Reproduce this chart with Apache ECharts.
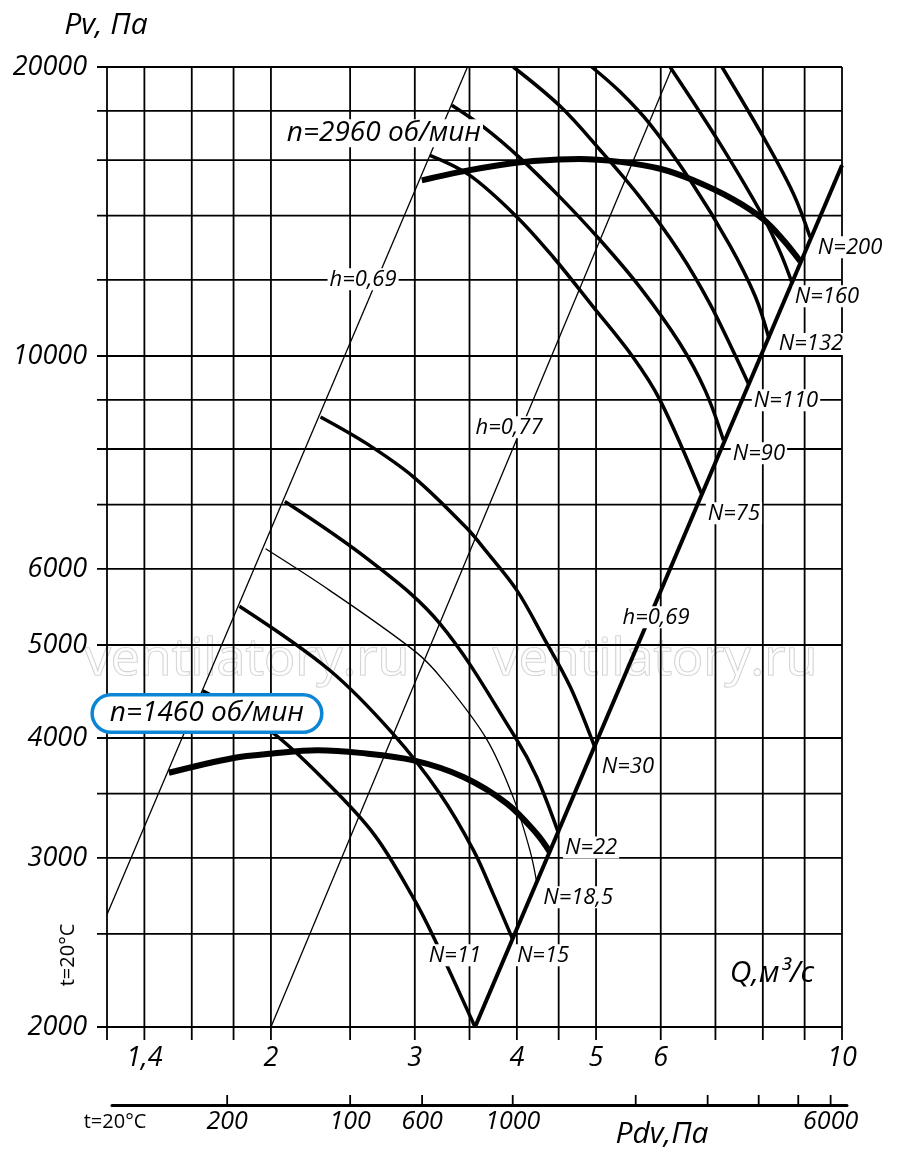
<!DOCTYPE html>
<html>
<head>
<meta charset="utf-8">
<script src="https://cdn.jsdelivr.net/npm/echarts@6/dist/echarts.min.js"></script>
<style>
html, body { margin: 0; padding: 0; background: #fff; }
#chart { width: 900px; height: 1158px; }
</style>
</head>
<body>
<div id="chart"></div>
<script>
// axis ranges
var qMin = 1.26, qMax = 10;
var pMin = 2000, pMax = 20000;
var pdvMin = 104.5, pdvMax = 6580;

// grid lines and tick labels
var qGrid = [1.4, 1.6, 1.8, 2, 2.5, 3, 3.5, 4, 4.5, 5, 6, 7, 8, 9, 10];
var qLabelVals = [1.4, 2, 3, 4, 5, 6, 10];
var qLabelText = ['1,4', '2', '3', '4', '5', '6', '10'];
var pGrid = [2000, 2500, 3000, 3500, 4000, 5000, 6000, 7000, 8000, 9000, 10000, 12000, 14000, 16000, 18000, 20000];
var pLabelVals = [2000, 3000, 4000, 5000, 6000, 10000, 20000];
var pdvTicks = [200, 400, 600, 1000, 2000, 3000, 4000, 5000, 6000];
var pdvLabelVals = [200, 400, 600, 1000, 6000];
var pdvLabelText = ['200', '100', '600', '1000', '6000'];

// fan curves, [Q m3/s, Pv Pa]
var n2960 = [[3.06, 15240], [3.41, 15550], [3.8, 15800], [4.19, 15960], [4.77, 16040], [5.35, 15930], [5.99, 15670], [6.58, 15240], [7.36, 14560], [8.01, 13880], [8.48, 13200], [8.89, 12550]];
var n1460 = [[1.5, 3680], [1.8, 3813], [2.01, 3854], [2.28, 3884], [2.57, 3860], [2.99, 3791], [3.44, 3643], [3.89, 3418], [4.23, 3180], [4.39, 3043]];

// power lines N, kW
var n11 = [[1.65, 4480], [2.0, 4065], [2.36, 3571], [2.68, 3167], [2.99, 2723], [3.17, 2472], [3.555, 2000]];
var n15 = [[1.83, 5486], [2.36, 4706], [2.82, 4043], [3.22, 3500], [3.54, 3055], [3.74, 2754], [3.95, 2472]];
var n185 = [[1.97, 6298], [2.36, 5700], [3.01, 4915], [3.25, 4594], [3.67, 3994], [3.96, 3467], [4.15, 3055], [4.23, 2830]];
var n22 = [[2.08, 7055], [2.64, 6125], [3.22, 5263], [3.98, 4010], [4.23, 3643], [4.5, 3180]];
var n30 = [[2.3, 8640], [2.62, 8104], [2.99, 7480], [3.47, 6623], [3.67, 6258], [4.0, 5700], [4.31, 5096], [4.65, 4520], [4.98, 3915]];
var n75 = [[3.13, 16180], [3.5, 15430], [4.0, 13960], [4.43, 12680], [4.96, 11250], [5.55, 9970], [5.99, 8990], [6.73, 7190]];
var n90 = [[3.33, 18250], [3.64, 17320], [4.04, 16065], [4.52, 14630], [5.06, 13200], [5.66, 11790], [6.33, 10310], [6.8, 9208], [7.16, 8170]];
var n110 = [[3.96, 20000], [4.52, 18200], [5.06, 16380], [5.66, 14630], [6.33, 12820], [6.89, 11340], [7.4, 10015], [7.68, 9360]];
var n132 = [[4.94, 20000], [5.35, 18845], [5.82, 17440], [6.52, 15240], [7.29, 13040], [7.83, 11540], [8.14, 10430]];
var n160 = [[6.16, 20000], [7.09, 16640], [8.01, 13960], [8.4, 12830], [8.68, 11940]];
var n200 = [[7.13, 20000], [8.01, 16910], [8.72, 14760], [9.14, 13300]];

// efficiency / network lines
var hLeft = [[1.26, 2620], [3.48, 20000]];
var h077 = [[2.0, 2000], [6.2, 20000]];
var hRight = [[3.555, 2000], [10, 15800]];

// text annotations and their anchor points
var noteText = ['N=200', 'N=160', 'N=132', 'N=110', 'N=90', 'N=75', 'N=30', 'N=22', 'N=18,5', 'N=15', 'N=11', 'h=0,69', 'h=0,69', 'h=0,77'];
var notePos = [[10.23, 12980], [9.585, 11540], [9.162, 10290], [8.54, 8992], [7.913, 7918], [7.375, 6857], [5.47, 3738], [4.93, 3077], [4.753, 2730], [4.306, 2375], [3.36, 2375], [2.593, 12020], [5.92, 5343], [3.912, 8428]];
var rpmText = ['n=2960 об/мин', 'n=1460 об/мин'];
var rpmPos = [[2.75, 17064], [1.67, 4243]];

var FONT = '"Open Sans", "Noto Sans", sans-serif';

function curve(data, width, smooth) {
    return {
        type: 'line', data: data, symbol: 'none', smooth: smooth === undefined ? 0.35 : smooth,
        lineStyle: { color: '#000', width: width }, silent: true, z: 3
    };
}

function vGridItem(params, api) {
    var q = api.value(0);
    var top = api.coord([q, pMax]);
    var bot = api.coord([q, pMin]);
    return {
        type: 'line',
        shape: { x1: top[0], y1: top[1], x2: bot[0], y2: bot[1] + 13 },
        style: { stroke: '#000', lineWidth: 1.8 }
    };
}

function hGridItem(params, api) {
    var p = api.value(1);
    var l = api.coord([qMin, p]);
    var r = api.coord([qMax, p]);
    return {
        type: 'line',
        shape: { x1: l[0] - 10, y1: l[1], x2: r[0], y2: r[1] },
        style: { stroke: '#000', lineWidth: 1.8 }
    };
}

function textStyle(txt, x, y, align, size, italic) {
    return {
        text: txt, x: x, y: y,
        align: align, verticalAlign: 'middle',
        textAlign: align, textVerticalAlign: 'middle',
        font: (italic ? 'italic ' : '') + size + 'px ' + FONT,
        fill: '#000'
    };
}

function watermark(x) {
    return {
        type: 'text', x: x, y: 660, z: 1, silent: true,
        style: {
            text: 'ventilatory.ru', x: 0, y: 0, align: 'center', verticalAlign: 'middle',
            textAlign: 'center', textVerticalAlign: 'middle',
            font: '52px ' + FONT, fill: 'rgba(255,255,255,0.6)', stroke: '#c8c8c8', lineWidth: 1.2
        }
    };
}

var noteLabel = {
    show: true, position: 'inside', color: '#000', fontSize: 22, fontStyle: 'italic',
    fontFamily: FONT, backgroundColor: '#fff', padding: [0, 2]
};

var option = {
    animation: false,
    grid: [
        { left: 107, right: 58, top: 67, bottom: 131 },
        { left: 112, right: 53, top: 1095, height: 10 }
    ],
    xAxis: [
        { type: 'log', logBase: 10, min: qMin, max: qMax, gridIndex: 0,
          axisLine: { show: false }, axisTick: { show: false }, axisLabel: { show: false }, splitLine: { show: false } },
        { type: 'log', logBase: 10, min: pdvMin, max: pdvMax, gridIndex: 1, position: 'top',
          axisLine: { show: true, lineStyle: { color: '#000', width: 3 } },
          axisTick: { show: false }, axisLabel: { show: false }, splitLine: { show: false } }
    ],
    yAxis: [
        { type: 'log', logBase: 10, min: pMin, max: pMax, gridIndex: 0,
          axisLine: { show: false }, axisTick: { show: false }, axisLabel: { show: false }, splitLine: { show: false } },
        { type: 'value', min: 0, max: 1, gridIndex: 1, show: false }
    ],
    graphic: [
        { type: 'text', x: 106, y: 25, style: textStyle('Pv, Па', 0, 0, 'center', 30, true) },
        { type: 'text', x: 772, y: 973, style: textStyle('Q,м³/с', 0, 0, 'center', 30, true) },
        { type: 'text', x: 662, y: 1134, style: textStyle('Pdv,Па', 0, 0, 'center', 30, true) },
        { type: 'text', x: 115, y: 1122, style: textStyle('t=20°C', 0, 0, 'center', 20, false) },
        { type: 'text', x: 68, y: 955, rotation: Math.PI / 2, style: textStyle('t=20°C', 0, 0, 'center', 20, false) },
        watermark(247),
        watermark(655)
    ],
    series: [
        // vertical grid lines (plus left frame)
        { type: 'custom', xAxisIndex: 0, yAxisIndex: 0, silent: true, z: 1,
          data: [qMin].concat(qGrid).map(function (q) { return [q, pMin]; }),
          renderItem: vGridItem },
        // horizontal grid lines
        { type: 'custom', xAxisIndex: 0, yAxisIndex: 0, silent: true, z: 1,
          data: pGrid.map(function (p) { return [qMin, p]; }),
          renderItem: hGridItem },
        // Q tick labels
        { type: 'custom', xAxisIndex: 0, yAxisIndex: 0, silent: true, z: 1,
          data: qLabelVals.map(function (q) { return [q, pMin]; }),
          renderItem: function (params, api) {
              var c = api.coord([api.value(0), pMin]);
              return { type: 'text', style: textStyle(qLabelText[params.dataIndex], c[0], c[1] + 31, 'center', 27, true) };
          } },
        // Pv tick labels
        { type: 'custom', xAxisIndex: 0, yAxisIndex: 0, silent: true, z: 1,
          data: pLabelVals.map(function (p) { return [qMin, p]; }),
          renderItem: function (params, api) {
              var c = api.coord([qMin, api.value(1)]);
              return { type: 'text', style: textStyle(String(pLabelVals[params.dataIndex]), c[0] - 20, c[1], 'right', 27, true) };
          } },
        // Pdv ticks and labels
        { type: 'custom', xAxisIndex: 1, yAxisIndex: 1, silent: true, z: 1,
          data: pdvTicks.map(function (v) { return [v, 1]; }),
          renderItem: function (params, api) {
              var v = api.value(0);
              var c = api.coord([v, 1]);
              var children = [{ type: 'line', shape: { x1: c[0], y1: c[1], x2: c[0], y2: c[1] + 11 },
                                style: { stroke: '#000', lineWidth: 1.8 } }];
              var k = pdvLabelVals.indexOf(v);
              if (k >= 0) children.push({ type: 'text', style: textStyle(pdvLabelText[k], c[0], c[1] + 27, 'center', 25, true) });
              return { type: 'group', children: children };
          } },

        curve(hLeft, 1.3, false),
        curve(h077, 1.3, false),
        curve(hRight, 4, false),
        curve(n11, 3.5),
        curve(n15, 3.5),
        curve(n185, 1.3),
        curve(n22, 3.5),
        curve(n30, 3.5),
        curve(n75, 3.5),
        curve(n90, 3.5),
        curve(n110, 3.5),
        curve(n132, 3.5),
        curve(n160, 3.5),
        curve(n200, 3.5),
        curve(n2960, 6),
        curve(n1460, 6),

        // N and h annotations
        { type: 'scatter', xAxisIndex: 0, yAxisIndex: 0, clip: false, silent: true, z: 10,
          symbolSize: 1, itemStyle: { color: 'rgba(0,0,0,0)', opacity: 1 },
          data: notePos.map(function (p, i) {
              return { value: p, label: { formatter: noteText[i] } };
          }),
          label: noteLabel },
        // speed labels
        { type: 'scatter', xAxisIndex: 0, yAxisIndex: 0, clip: false, silent: true, z: 11,
          symbolSize: 1, itemStyle: { color: 'rgba(0,0,0,0)', opacity: 1 },
          data: rpmPos.map(function (p, i) {
              var lab = { formatter: rpmText[i] };
              if (i === 1) {
                  lab.borderColor = '#0b86d6';
                  lab.borderWidth = 3.5;
                  lab.borderRadius = 17;
                  lab.padding = [3, 16];
              }
              return { value: p, label: lab };
          }),
          label: { show: true, position: 'inside', color: '#000', fontSize: 28, fontStyle: 'italic',
                   fontFamily: FONT, backgroundColor: '#fff', padding: [0, 2] } }
    ]
};

var chart = echarts.init(document.getElementById('chart'));
chart.setOption(option);
</script>
</body>
</html>
